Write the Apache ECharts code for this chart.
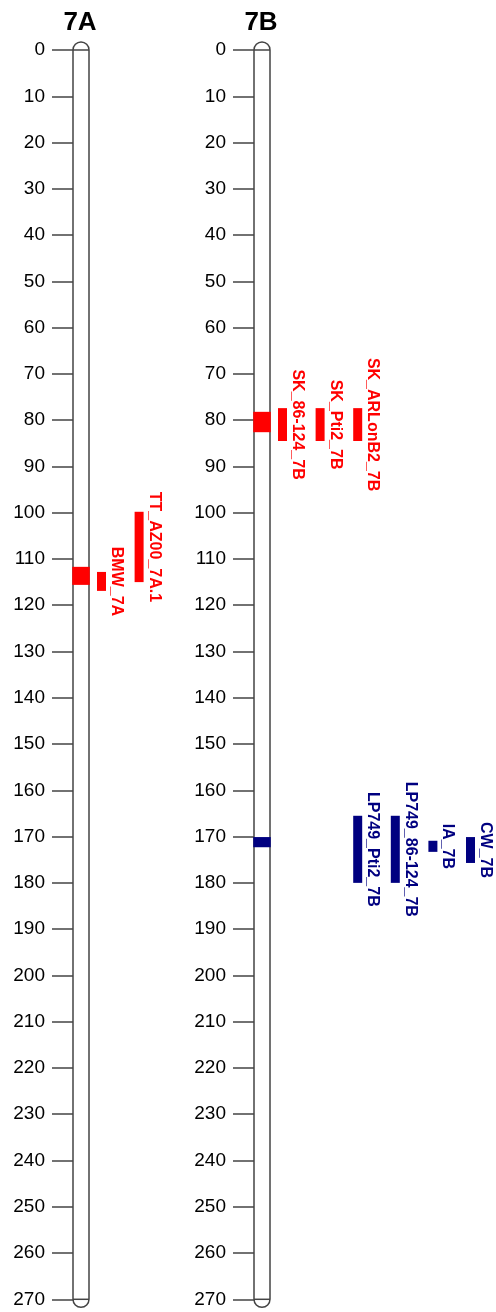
<!DOCTYPE html>
<html><head><meta charset="utf-8">
<script src="https://cdn.jsdelivr.net/npm/echarts@6/dist/echarts.min.js"></script>
<style>html,body{margin:0;padding:0;background:#fff}#c{width:496px;height:1312px}</style>
</head><body><div id="c"></div>
<script>
// ---- data ----
const chromNames = ['7A', '7B'];
const chromLengths = [270, 270];
const axisMin = 0, axisMax = 270, axisStep = 10;

// marker blocks drawn on the chromosomes
const segChrom = [0, 1, 1];
const segStart = [111.7, 78.2, 170.1];
const segEnd   = [115.6, 82.6, 172.3];
const segGroup = [0, 0, 1];

// QTL intervals drawn beside the chromosomes
const qtlNames = ['BMW_7A', 'TT_AZ00_7A.1', 'SK_86-124_7B', 'SK_Pti2_7B', 'SK_ARLonB2_7B',
                  'LP749_Pti2_7B', 'LP749_86-124_7B', 'IA_7B', 'CW_7B'];
const qtlChrom = [0, 0, 1, 1, 1, 1, 1, 1, 1];
const qtlStart = [112.8, 99.8, 77.4, 77.4, 77.4, 165.5, 165.5, 170.9, 170.1];
const qtlEnd   = [116.9, 115.0, 84.5, 84.5, 84.5, 180.0, 180.0, 173.3, 175.7];
const qtlLane  = [0, 1, 0, 1, 2, 2, 3, 4, 5];
const qtlGroup = [0, 0, 0, 0, 0, 1, 1, 1, 1];

const groupColors = ['#ff0000', '#000080'];

// ---- layout / style ----
const FONT = '"Liberation Sans", Arial, Helvetica, sans-serif';
const gridLefts = [73, 254];
const chromWidth = 16;
const laneGap = 8, laneStep = 37.6, barWidth = 9, labelOffset = 19.5;
const strokeCol = '#444';

const chart = echarts.init(document.getElementById('c'), null, {renderer: 'canvas'});

const grids = [], xAxes = [], yAxes = [], series = [];
chromNames.forEach((name, i) => {
  grids.push({left: gridLefts[i], top: 50, width: chromWidth, height: 1249.3,
              containLabel: false, outerBoundsMode: 'none'});
  xAxes.push({gridIndex: i, type: 'value', min: 0, max: 1, show: false});
  yAxes.push({
    gridIndex: i, type: 'value', inverse: true, min: axisMin, max: axisMax, interval: axisStep,
    axisLine: {show: false},
    axisTick: {show: true, length: 21, lineStyle: {color: strokeCol, width: 1.5}},
    axisLabel: {margin: 28, fontSize: 19, color: '#000', fontFamily: FONT},
    splitLine: {show: false}
  });

  // chromosome body + name
  series.push({
    type: 'custom', xAxisIndex: i, yAxisIndex: i, z: 2, silent: true,
    data: [[0, chromLengths[i]]],
    encode: {x: 0, y: 1},
    renderItem: function (params, api) {
      const len = api.value(1);
      const p0 = api.coord([0, 0]);
      const p1 = api.coord([1, len]);
      const w = p1[0] - p0[0], r = w / 2;
      return {type: 'group', children: [
        {type: 'rect', shape: {x: p0[0], y: p0[1] - r, width: w, height: p1[1] - p0[1] + 2 * r, r: r},
         style: {fill: '#fff', stroke: strokeCol, lineWidth: 1.5}},
        {type: 'line', shape: {x1: p0[0], y1: p0[1], x2: p1[0], y2: p0[1]}, style: {stroke: strokeCol, lineWidth: 1.5}},
        {type: 'line', shape: {x1: p0[0], y1: p1[1], x2: p1[0], y2: p1[1]}, style: {stroke: strokeCol, lineWidth: 1.5}},
        {type: 'text', x: (p0[0] + p1[0]) / 2 - 1, y: p0[1] - 27.5,
         style: {text: name, font: 'bold 26px ' + FONT, fill: '#000',
                 align: 'center', verticalAlign: 'middle', textAlign: 'center', textVerticalAlign: 'middle'}}
      ]};
    }
  });

  // blocks on chromosome
  const segData = [];
  segChrom.forEach((c, k) => { if (c === i) segData.push([0.5, segStart[k], segEnd[k], segGroup[k]]); });
  series.push({
    type: 'custom', xAxisIndex: i, yAxisIndex: i, z: 3, silent: true,
    data: segData, encode: {x: 0, y: [1, 2]},
    renderItem: function (params, api) {
      const a = api.coord([0, api.value(1)]);
      const b = api.coord([1, api.value(2)]);
      return {type: 'rect', shape: {x: a[0] - 0.75, y: a[1], width: b[0] - a[0] + 1.5, height: b[1] - a[1]},
              style: {fill: groupColors[api.value(3)]}};
    }
  });

  // QTL bars + labels
  const qData = [];
  qtlChrom.forEach((c, k) => { if (c === i) qData.push([1, qtlStart[k], qtlEnd[k], qtlLane[k], qtlGroup[k], k]); });
  series.push({
    type: 'custom', xAxisIndex: i, yAxisIndex: i, z: 3, silent: true,
    data: qData, encode: {x: 0, y: [1, 2]},
    renderItem: function (params, api) {
      const a = api.coord([1, api.value(1)]);
      const b = api.coord([1, api.value(2)]);
      const x = a[0] + laneGap + api.value(3) * laneStep;
      const col = groupColors[api.value(4)];
      const label = qtlNames[api.value(5)];
      return {type: 'group', children: [
        {type: 'rect', shape: {x: x, y: a[1], width: barWidth, height: b[1] - a[1]}, style: {fill: col}},
        {type: 'text', x: x + labelOffset, y: (a[1] + b[1]) / 2, rotation: -Math.PI / 2,
         style: {text: label, font: 'bold 16px ' + FONT, fill: col,
                 align: 'center', verticalAlign: 'middle', textAlign: 'center', textVerticalAlign: 'middle'}}
      ]};
    }
  });
});

chart.setOption({
  animation: false,
  backgroundColor: '#fff',
  grid: grids, xAxis: xAxes, yAxis: yAxes, series: series
});
</script>
</body></html>
